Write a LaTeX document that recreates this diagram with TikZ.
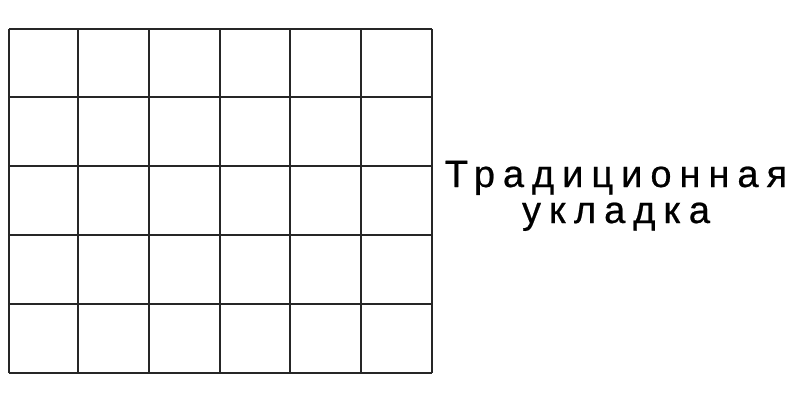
\documentclass[tikz,border=0pt]{standalone}
\usepackage{fontspec}
\setmainfont{Liberation Sans}[LetterSpace=21,FakeBold=0.6]
\begin{document}
\begin{tikzpicture}[x=1pt,y=1pt,
  gridline/.style={line width=2pt, black!85},
  caption/.style={font=\fontsize{38}{36}\selectfont, inner sep=0pt}]
\useasboundingbox (0,0) rectangle (800,400);
\fill[white] (0,0) rectangle (800,400);
\foreach \x in {9,78,149,220,290,361,432}
  \draw[gridline] (\x,27) -- (\x,371);
\foreach \y in {27,96,165,234,303,371}
  \draw[gridline] (9,\y) -- (432,\y);
\node[caption, anchor=base] (t1) at (616,213) {Традиционная};
\node[caption, anchor=base] (t2) at (616,177) {укладка};
\end{tikzpicture}
\end{document}
